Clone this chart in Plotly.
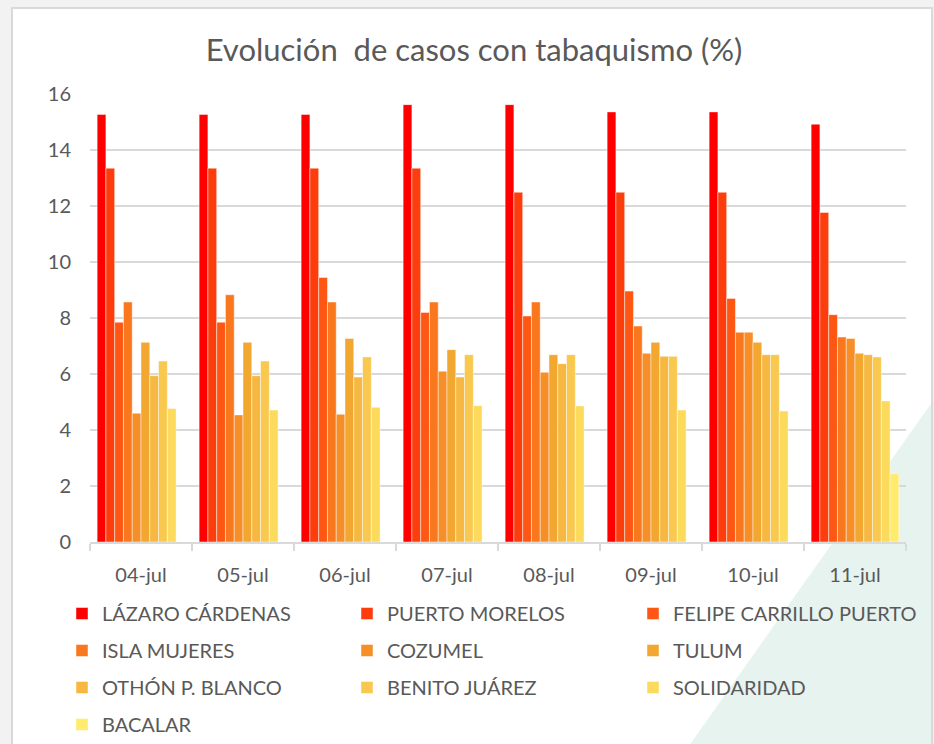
import plotly.graph_objects as go

# Dates on the category axis
dates = ["04-jul", "05-jul", "06-jul", "07-jul", "08-jul", "09-jul", "10-jul", "11-jul"]

# Percentage of cases with smoking history, per municipality
lazaro_cardenas = [15.27, 15.27, 15.27, 15.62, 15.62, 15.36, 15.36, 14.92]
puerto_morelos = [13.35, 13.35, 13.35, 13.35, 12.49, 12.49, 12.49, 11.77]
felipe_carrillo_puerto = [7.85, 7.85, 9.45, 8.20, 8.07, 8.96, 8.70, 8.12]
isla_mujeres = [8.57, 8.83, 8.57, 8.57, 8.57, 7.71, 7.49, 7.32]
cozumel = [4.60, 4.54, 4.56, 6.10, 6.06, 6.74, 7.49, 7.27]
tulum = [7.13, 7.13, 7.27, 6.87, 6.69, 7.13, 7.13, 6.74]
othon_p_blanco = [5.94, 5.94, 5.89, 5.89, 6.37, 6.63, 6.69, 6.69]
benito_juarez = [6.46, 6.46, 6.61, 6.69, 6.69, 6.63, 6.69, 6.61]
solidaridad = [4.77, 4.71, 4.81, 4.87, 4.86, 4.71, 4.68, 5.04]
bacalar = [None, None, None, None, None, None, None, 2.44]

series = [
    ("LÁZARO CÁRDENAS", lazaro_cardenas, "#FF0000", "legend"),
    ("PUERTO MORELOS", puerto_morelos, "#FE3D0D", "legend2"),
    ("FELIPE CARRILLO PUERTO", felipe_carrillo_puerto, "#FE5713", "legend3"),
    ("ISLA MUJERES", isla_mujeres, "#F9781E", "legend"),
    ("COZUMEL", cozumel, "#F78F29", "legend2"),
    ("TULUM", tulum, "#F2A731", "legend3"),
    ("OTHÓN P. BLANCO", othon_p_blanco, "#F6B840", "legend"),
    ("BENITO JUÁREZ", benito_juarez, "#F9C84E", "legend2"),
    ("SOLIDARIDAD", solidaridad, "#FCDA5B", "legend3"),
    ("BACALAR", bacalar, "#FFEB6C", "legend"),
]

W, H = 934, 744
ML, MR, MT, MB = 90, 28, 94, 202
PW, PH = W - ML - MR, H - MT - MB


def px_x(x):
    return (x - ML) / PW


def px_y(y):
    return (H - MB - y) / PH


TEXT = "#595959"
FONT = "Lato"

fig = go.Figure()
for name, vals, color, leg in series:
    fig.add_trace(go.Bar(
        x=dates, y=vals, name=name,
        marker=dict(color=color, line=dict(color="rgba(255,255,255,0.45)", width=1)),
        legend=leg, legendgroup=name,
    ))

# Slide-like panel with a pale teal wedge in the lower right corner
panel = dict(x0=px_x(12), x1=px_x(932), y0=px_y(8), y1=px_y(760))
wedge = "M {:.4f},{:.4f} L {:.4f},{:.4f} L {:.4f},{:.4f} Z".format(
    px_x(940), px_y(391), px_x(686), px_y(750), px_x(940), px_y(750))
shapes = [
    dict(type="rect", xref="paper", yref="paper", layer="below",
         fillcolor="white", line=dict(width=0), **panel),
    dict(type="path", xref="paper", yref="paper", layer="below", path=wedge,
         fillcolor="#E7F3EF", line=dict(width=0)),
    dict(type="rect", xref="paper", yref="paper", layer="below",
         fillcolor="rgba(0,0,0,0)", line=dict(color="#D9D9D9", width=2), **panel),
]

legend_common = dict(
    orientation="v", xanchor="left", yanchor="top",
    font=dict(family=FONT, size=20, color=TEXT),
    bgcolor="rgba(0,0,0,0)", tracegroupgap=8, itemclick=False,
)
leg_top = px_y(594)

fig.update_layout(
    width=W, height=H,
    margin=dict(l=ML, r=MR, t=MT, b=MB, autoexpand=False),
    paper_bgcolor="#F2F2F2",
    plot_bgcolor="rgba(0,0,0,0)",
    font=dict(family=FONT, color=TEXT),
    title=dict(text="Evolución  de casos con tabaquismo (%)", x=474 / W, xanchor="center",
               xref="container", y=1 - 50 / H, yanchor="middle", yref="container",
               font=dict(family=FONT, size=31, color=TEXT)),
    barmode="group", bargap=0.14, bargroupgap=0,
    showlegend=True,
    legend=dict(x=px_x(62), y=leg_top, **legend_common),
    legend2=dict(x=px_x(347), y=leg_top, **legend_common),
    legend3=dict(x=px_x(633), y=leg_top, **legend_common),
    shapes=shapes,
    xaxis=dict(
        type="category", showgrid=False, showline=True, linecolor="#D9D9D9", linewidth=1.5,
        ticks="outside", tickson="boundaries", ticklen=7, tickcolor="#D9D9D9", tickwidth=1.5,
        tickfont=dict(family=FONT, size=20, color=TEXT), ticklabelstandoff=14,
        automargin=False,
    ),
    yaxis=dict(
        range=[0, 16], dtick=2, showgrid=True, gridcolor="#D9D9D9", gridwidth=1.5,
        zeroline=False, showline=False, ticks="",
        tickfont=dict(family=FONT, size=20, color=TEXT), ticklabelstandoff=18,
        automargin=False,
    ),
)

fig.write_html("out.html")
